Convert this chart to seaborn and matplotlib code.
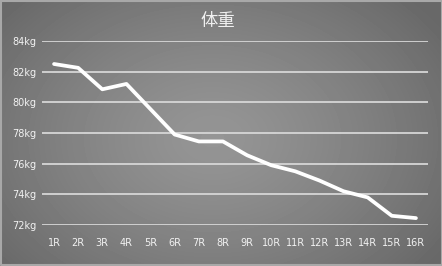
import numpy as np
import pandas as pd
import matplotlib
matplotlib.use("Agg")
import matplotlib.pyplot as plt
import seaborn as sns

rounds = ["1R", "2R", "3R", "4R", "5R", "6R", "7R", "8R", "9R", "10R",
          "11R", "12R", "13R", "14R", "15R", "16R"]
weights = [82.5, 82.25, 80.85, 81.2, 79.55, 77.9, 77.45, 77.45, 76.55, 75.9,
           75.5, 74.9, 74.2, 73.8, 72.6, 72.45]
yticks = [72, 74, 76, 78, 80, 82, 84]
ytick_labels = [f"{v}kg" for v in yticks]
title = "体重"

sns.set_theme(style="white")
plt.rcParams['font.family'] = ['Noto Sans CJK JP', 'DejaVu Sans']

W, H = 442, 266
fig = plt.figure(figsize=(W / 100, H / 100), dpi=100)

# radial gradient background
bg = fig.add_axes([0, 0, 1, 1])
yy, xx = np.mgrid[0:H, 0:W]
cx, cy = W * 0.48, H * 0.52
r = np.sqrt(((xx - cx) / (W * 0.62)) ** 2 + ((yy - cy) / (H * 0.75)) ** 2)
r = np.clip(r, 0, 1)
inner, outer = 0.585, 0.41
val = inner + (outer - inner) * r ** 1.3
bg.imshow(val, cmap="gray", vmin=0, vmax=1, aspect="auto", extent=[0, W, H, 0])
bg.plot([0.5, W - 0.5, W - 0.5, 0.5, 0.5], [0.5, 0.5, H - 1.5, H - 1.5, 0.5],
        color="#a8a8a8", lw=1.5)
bg.set_xlim(0, W)
bg.set_ylim(H, 0)
bg.axis("off")

ax = fig.add_axes([42 / W, 1 - 225 / H, 386 / W, 184 / H])
ax.patch.set_alpha(0)
df = pd.DataFrame({"round": rounds, "weight": weights})
sns.lineplot(data=df, x="round", y="weight", sort=False, color="white",
             lw=2.7, ax=ax)
ax.set_xlim(-0.5, len(rounds) - 0.5)
ax.set_ylim(72, 84)
ax.set_yticks(yticks)
ax.set_yticklabels(ytick_labels)
ax.grid(axis="y", color="#d6d6d6", lw=1.3)
ax.set_axisbelow(True)
for s in ax.spines.values():
    s.set_visible(False)
ax.set_xlabel("")
ax.set_ylabel("")
ax.tick_params(axis="both", length=0, labelsize=7, labelcolor="#f2f2f2")
ax.tick_params(axis="x", pad=9)
ax.tick_params(axis="y", pad=4)
for lab in ax.get_xticklabels() + ax.get_yticklabels():
    lab.set_fontfamily(['DejaVu Sans'])

fig.text(218 / W, 1 - 21 / H, title, color="#f0f0f0", fontsize=12.5,
         ha="center", va="center")

fig.savefig("out.png", dpi=100)
